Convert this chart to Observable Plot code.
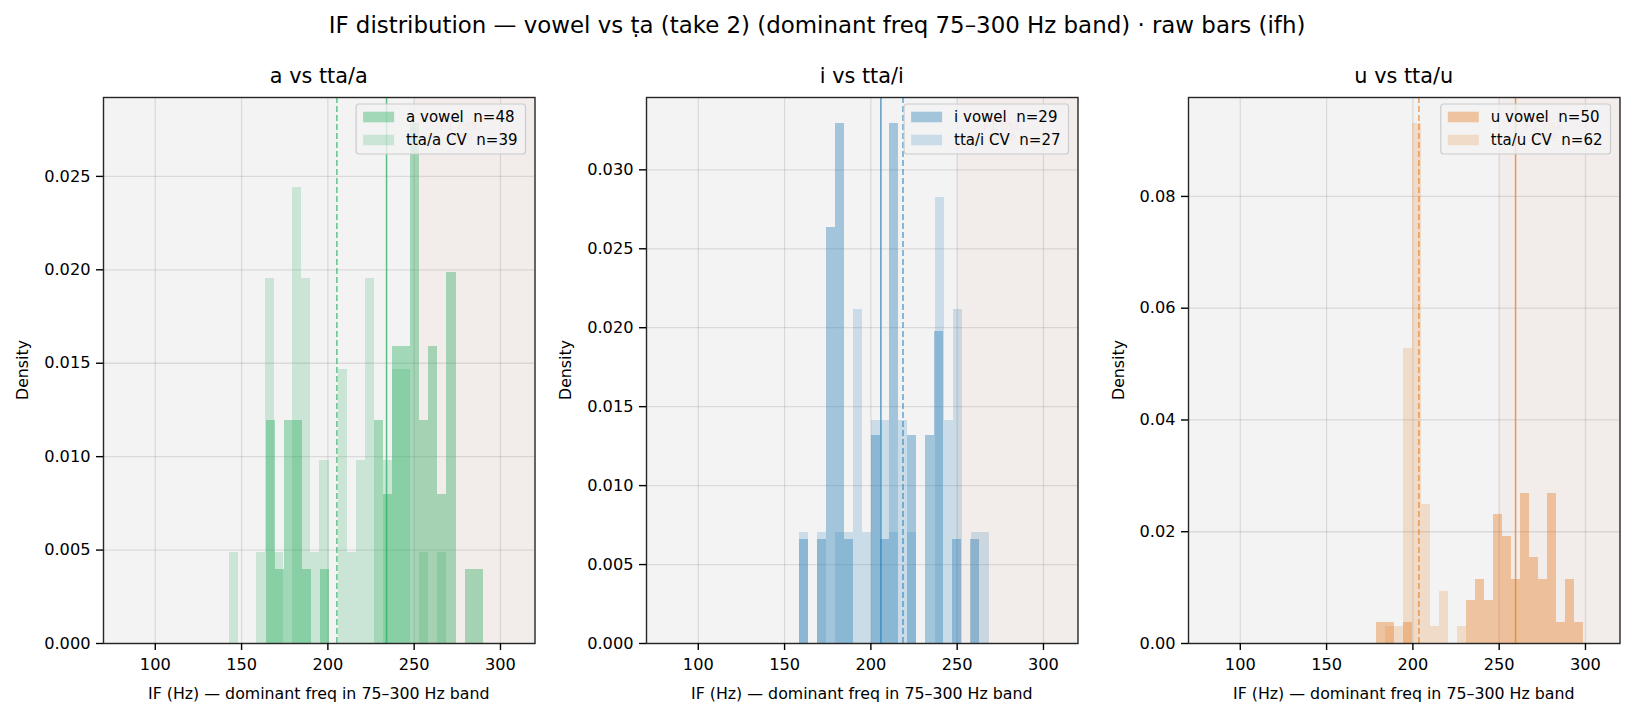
<!DOCTYPE html>
<html><head><meta charset="utf-8">
<script src="https://cdn.jsdelivr.net/npm/d3@7"></script>
<script src="https://cdn.jsdelivr.net/npm/@observablehq/plot@0.6"></script>
<style>
html,body{margin:0;padding:0;background:#fff;}
#wrap{position:relative;width:1634px;height:719px;overflow:hidden;font-family:"DejaVu Sans",sans-serif;background:#fff;}
#title{position:absolute;left:0;top:0;width:1634px;text-align:center;font-size:22.9px;line-height:50px;color:#000;white-space:pre;}
.panel{position:absolute;top:0;}
</style></head><body>
<div id="wrap"><div id="title">IF distribution — vowel vs ṭa (take 2) (dominant freq 75–300 Hz band) · raw bars (ifh)</div></div>
<script>
// ---------- data ----------
const panelTitles = ["a vs tta/a", "i vs tta/i", "u vs tta/u"];
const vowelLabels = ["a vowel", "i vowel", "u vowel"];
const cvLabels = ["tta/a CV", "tta/i CV", "tta/u CV"];
const seriesColors = ["#27ae60", "#2980b9", "#e67e22"];

// panel a
const aVowelN = 48, aVowelStart = 164.2, aVowelWidth = 5.24;
const aVowelCounts = [3,1,3,3,1,0,1,0,0,0,0,0,3,2,4,4,7,3,4,2,5,0,1,1];
const aCvN = 39, aCvStart = 142.9, aCvWidth = 5.25;
const aCvCounts = [1,0,0,1,4,1,0,5,4,1,2,0,3,1,2,4,0,2,3,3,0,1,0,1];
const aMeans = [234.0, 205.2];

// panel i
const iVowelN = 29, iVowelStart = 158.4, iVowelWidth = 5.235;
const iVowelCounts = [1,0,1,4,5,1,0,0,2,1,5,0,2,0,2,3,0,1,0,1];
const iCvN = 27, iCvStart = 158.4, iCvWidth = 5.25;
const iCvCounts = [1,0,1,0,1,1,3,1,2,2,1,2,1,0,0,4,2,3,0,1,1];
const iMeans = [205.8, 218.6];

// panel u
const uVowelN = 50, uVowelStart = 179.2, uVowelWidth = 5.2;
const uVowelCounts = [1,1,0,1,0,0,0,0,0,0,2,3,2,6,5,3,7,4,3,7,1,3,1];
const uCvN = 62, uCvStart = 184.4, uCvWidth = 5.2;
const uCvCounts = [1,1,17,30,8,1,3,0,1];
const uMeans = [259.5, 203.5];

const xDomain = [70, 320];
const xTicks = [100, 150, 200, 250, 300];
const yTicksA = [0, 0.005, 0.010, 0.015, 0.020, 0.025];
const yTicksI = [0, 0.005, 0.010, 0.015, 0.020, 0.025, 0.030];
const yTicksU = [0, 0.02, 0.04, 0.06, 0.08];
const yFormats = [".3f", ".3f", ".2f"];
const riskZone = [250, 320];
const riskLabel = "F1 risk\nzone";
const riskLabelX = 276;
const xLabel = "IF (Hz) — dominant freq in 75–300 Hz band";
const yLabel = "Density";

// ---------- layout ----------
const frameLefts = [103.2, 645.5, 1187.8];
const frameW = 431.5, frameTop = 97, frameBottom = 643, H = 719;
const mL = 100, mR = 12;
const yLabelOffsets = [81, 81, 70];

function rows(start, width, counts, n) {
  return counts.map((c, i) => ({x0: start + i * width, x1: start + (i + 1) * width, d: c / (n * width)}))
    .filter(r => r.d > 0);
}

const panels = [
  {vowel: rows(aVowelStart, aVowelWidth, aVowelCounts, aVowelN), cv: rows(aCvStart, aCvWidth, aCvCounts, aCvN), nV: aVowelN, nC: aCvN, means: aMeans, yTicks: yTicksA},
  {vowel: rows(iVowelStart, iVowelWidth, iVowelCounts, iVowelN), cv: rows(iCvStart, iCvWidth, iCvCounts, iCvN), nV: iVowelN, nC: iCvN, means: iMeans, yTicks: yTicksI},
  {vowel: rows(uVowelStart, uVowelWidth, uVowelCounts, uVowelN), cv: rows(uCvStart, uCvWidth, uCvCounts, uCvN), nV: uVowelN, nC: uCvN, means: uMeans, yTicks: yTicksU}
];

const wrap = document.getElementById("wrap");
const TFS = 16.2;   // tick labels
const LFS = 15.8;   // axis labels

panels.forEach((p, k) => {
  const color = seriesColors[k];
  const ymax = 1.05 * d3.max([...p.vowel, ...p.cv], r => r.d);
  const W = mL + frameW + mR;
  const svg = Plot.plot({
    width: W, height: H,
    marginLeft: mL, marginRight: mR, marginTop: frameTop, marginBottom: H - frameBottom,
    x: {domain: xDomain},
    y: {domain: [0, ymax]},
    style: {background: "transparent", fontFamily: "DejaVu Sans", fontSize: TFS + "px", color: "#000", overflow: "visible"},
    marks: [
      Plot.frame({fill: "#f3f3f3", stroke: "none"}),
      Plot.gridX(xTicks, {stroke: "#000", strokeOpacity: 0.1, strokeWidth: 1.3}),
      Plot.gridY(p.yTicks, {stroke: "#000", strokeOpacity: 0.1, strokeWidth: 1.3}),
      Plot.rectY(p.cv, {x1: "x0", x2: "x1", y: "d", fill: color, fillOpacity: 0.2, inset: 0, shapeRendering: "crispEdges"}),
      Plot.rectY(p.vowel, {x1: "x0", x2: "x1", y: "d", fill: color, fillOpacity: 0.4, inset: 0, shapeRendering: "crispEdges"}),
      Plot.rect([riskZone], {x1: d => d[0], x2: d => d[1], fill: "#e74c3c", fillOpacity: 0.04}),
      Plot.text([riskLabel], {x: riskLabelX, text: d => d, frameAnchor: "top", lineAnchor: "top", dy: 24, fill: "#e74c3c", fillOpacity: 0.3, fontSize: 11.5, lineHeight: 1}),
      Plot.ruleX([p.means[0]], {stroke: color, strokeWidth: 1.5, strokeOpacity: 0.75}),
      Plot.ruleX([p.means[1]], {stroke: color, strokeWidth: 1.5, strokeOpacity: 0.7, strokeDasharray: "6,3"}),
      Plot.frame({stroke: "#262626", strokeWidth: 1.4, fill: "none"}),
      Plot.axisX(xTicks, {tickSize: 7, tickPadding: 8, strokeWidth: 1.4, fontSize: TFS, label: null}),
      Plot.axisY(p.yTicks, {tickSize: 7, tickPadding: 6, strokeWidth: 1.4, fontSize: TFS, label: null, tickFormat: d3.format(yFormats[k])})
    ]
  });
  const div = document.createElement("div");
  div.className = "panel";
  div.style.left = (frameLefts[k] - mL) + "px";
  div.appendChild(svg);
  wrap.appendChild(div);

  const s = d3.select(svg);
  const fx0 = mL, fx1 = mL + frameW;
  // subplot title
  s.append("text").attr("x", (fx0 + fx1) / 2).attr("y", 76).attr("text-anchor", "middle")
    .attr("dominant-baseline", "central").style("font-size", "20.8px").attr("fill", "#000").text(panelTitles[k]);
  // x label
  s.append("text").attr("x", (fx0 + fx1) / 2).attr("y", 693).attr("text-anchor", "middle")
    .attr("dominant-baseline", "central").style("font-size", LFS + "px").attr("fill", "#000").text(xLabel);
  // y label
  s.append("text").attr("transform", `translate(${fx0 - yLabelOffsets[k]},${(frameTop + frameBottom) / 2}) rotate(-90)`)
    .attr("text-anchor", "middle").attr("dominant-baseline", "central").style("font-size", LFS + "px").attr("fill", "#000").text(yLabel);

  // legend
  const items = [
    {label: `${vowelLabels[k]}  n=${p.nV}`, op: 0.4},
    {label: `${cvLabels[k]}  n=${p.nC}`, op: 0.2}
  ];
  const g = s.append("g").attr("text-anchor", "start");
  const box = g.append("rect");
  const texts = items.map((it, j) => g.append("text").style("font-size", "15px").style("white-space", "pre")
    .attr("text-anchor", "start").attr("dominant-baseline", "central").attr("fill", "#000").text(it.label));
  const tw = d3.max(texts, t => t.node().getComputedTextLength());
  const bw = tw + 58, bh = 50;
  const bx = fx1 - 9 - bw, by = frameTop + 7;
  box.attr("x", bx).attr("y", by).attr("width", bw).attr("height", bh).attr("rx", 3)
    .attr("fill", "#f3f3f3").attr("fill-opacity", 0.8).attr("stroke", "#cccccc").attr("stroke-width", 1.2);
  items.forEach((it, j) => {
    const cy = by + 13 + j * 23;
    g.insert("rect", "text").attr("x", bx + 7).attr("y", cy - 5.3).attr("width", 31).attr("height", 10.6)
      .attr("fill", color).attr("fill-opacity", it.op);
    texts[j].attr("x", bx + 50).attr("y", cy);
  });
});
</script>
</body></html>
